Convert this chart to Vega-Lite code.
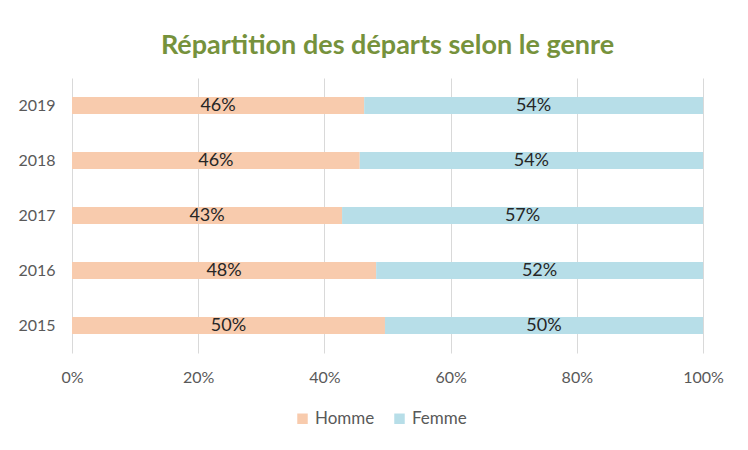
{
  "$schema": "https://vega.github.io/schema/vega-lite/v6.json",
  "autosize": "none",
  "width": 631,
  "height": 275,
  "padding": {"left": 72, "top": 78, "right": 45, "bottom": 97},
  "background": "white",
  "config": {"view": {"stroke": null}},
  "title": {
    "text": "Répartition des départs selon le genre",
    "font": "Lato",
    "fontSize": 27,
    "fontWeight": "bold",
    "color": "#76923C",
    "anchor": "middle",
    "offset": 18
  },
  "data": {
    "values": [
      {"year": "2019", "genre": "Homme", "share": 0.463},
      {"year": "2019", "genre": "Femme", "share": 0.537},
      {"year": "2018", "genre": "Homme", "share": 0.456},
      {"year": "2018", "genre": "Femme", "share": 0.544},
      {"year": "2017", "genre": "Homme", "share": 0.428},
      {"year": "2017", "genre": "Femme", "share": 0.572},
      {"year": "2016", "genre": "Homme", "share": 0.482},
      {"year": "2016", "genre": "Femme", "share": 0.518},
      {"year": "2015", "genre": "Homme", "share": 0.496},
      {"year": "2015", "genre": "Femme", "share": 0.504}
    ]
  },
  "encoding": {
    "y": {
      "field": "year",
      "type": "ordinal",
      "sort": "descending",
      "title": null,
      "scale": {"paddingInner": 0.69, "paddingOuter": 0.345},
      "axis": {"domain": false, "ticks": false, "grid": false, "labelPadding": 17, "labelFont": "Lato", "labelFontSize": 16, "labelColor": "#595959"}
    },
    "order": {"field": "genre", "sort": "descending"}
  },
  "layer": [
    {
      "mark": {"type": "bar"},
      "encoding": {
        "x": {
          "field": "share",
          "type": "quantitative",
          "stack": "normalize",
          "title": null,
          "scale": {"domain": [0, 1], "nice": false},
          "axis": {"format": ".0%", "values": [0, 0.2, 0.4, 0.6, 0.8, 1], "domain": false, "ticks": false, "grid": true, "gridColor": "#D9D9D9", "gridWidth": 1, "labelFlush": false, "labelPadding": 16, "labelFont": "Lato", "labelFontSize": 16, "labelColor": "#595959"}
        },
        "color": {
          "field": "genre",
          "type": "nominal",
          "title": null,
          "scale": {"domain": ["Homme", "Femme"], "range": ["#F8CBAD", "#B7DEE8"]},
          "legend": {"orient": "none", "legendX": 222, "legendY": 332, "direction": "horizontal", "symbolType": "square", "symbolSize": 110, "symbolStrokeWidth": 0, "labelOffset": 4, "labelFont": "Lato", "labelFontSize": 17, "labelColor": "#595959", "columnPadding": 16}
        }
      }
    },
    {
      "mark": {"type": "text", "font": "Lato", "fontSize": 18, "color": "#262626"},
      "encoding": {
        "x": {"field": "share", "type": "quantitative", "stack": "normalize", "bandPosition": 0.5},
        "text": {"field": "share", "type": "quantitative", "format": ".0%"}
      }
    }
  ]
}
